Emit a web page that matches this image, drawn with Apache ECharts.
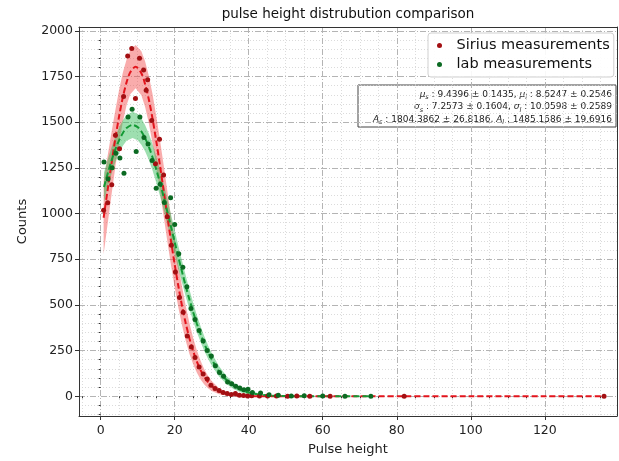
<!DOCTYPE html>
<html><head><meta charset="utf-8">
<script src="https://cdn.jsdelivr.net/npm/echarts@6/dist/echarts.min.js"></script>
<style>html,body{margin:0;padding:0;background:#fff}#c{width:619px;height:461px}</style>
</head><body><div id="c"></div>
<script>
// ---- data ----
const sirX = [0.8,1.9,3.0,4.0,5.1,6.2,7.3,8.4,9.4,10.5,11.6,12.3,12.7,13.8,14.8,15.9,17.0,18.0,19.1,20.2,21.3,22.3,23.4,24.5,25.5,26.6,27.7,28.8,29.8,30.9,32.0,33.1,34.2,35.3,36.4,37.5,38.6,39.7,40.8,42.9,45.1,47.5,50.5,53.0,56.5,62.0,82.0,136.0];
const sirY = [1018,1059,1157,1428,1354,1640,1862,1904,1630,1850,1786,1675,1732,1509,1273,1407,1211,983,827,680,540,460,330,270,212,160,122,95,60,42,32,20,15,10,15,6,4,2,3,1,2,1,0,1,0,0,0,0];
const labX = [0.9,2.0,3.1,4.1,5.2,6.3,7.4,8.5,9.6,10.6,11.7,12.8,13.9,15.0,16.1,17.2,18.9,20.0,21.1,22.2,23.3,24.4,25.5,26.6,27.7,28.8,29.9,31.0,32.1,33.2,34.3,35.4,36.5,37.6,38.7,39.8,41.0,43.2,45.5,48.0,51.5,55.0,60.0,66.0,73.0];
const labY = [1282,1189,1251,1330,1304,1220,1528,1571,1339,1528,1416,1380,1290,1139,1160,1060,1086,940,780,706,600,480,420,360,302,250,221,167,130,110,78,68,55,45,35,38,20,18,8,5,2,3,1,0,0];

const sirFitX = [0.8,2,3,4,5,6,7,8,9.44,11,12,13,14,15,16,17,18,19,20,21,22,23,24,25,26,27,28,29,30,32,34,36,38,40,43,46,50,62,82,100,120,136];
const sirFitY = [977,1145,1283,1415,1534,1637,1718,1773,1804,1768,1709,1626,1521,1399,1267,1128,988,851,722,602,493,398,316,247,190,143,106,78,56,27.5,12.7,5.5,2.2,0.8,0.2,0.05,0,0,0,0,0,0];
const sirBand = [200,185,170,155,145,135,125,120,118,120,125,130,135,138,140,140,138,133,126,117,106,95,84,72,61,51,42,34,27,16,9,4.5,2,1,0.3,0.1,0,0,0,0,0,0];

const labFitX = [0.9,2,3,4,5,6,7,8.62,10,11,12,13,14,15,16,17,18,19,20,21,22,23,24,25,26,27,28,29,30,32,34,36,38,40,43,46,50,55,62,73];
const labFitY = [1145,1226,1294,1353,1402,1441,1468,1485,1473,1449,1413,1366,1309,1243,1171,1093,1011,928,844,760,680,602,529,460,397,340,288,242,202,136,89,56,34,20,8.5,3.3,0.8,0.15,0,0];
const labBand = [80,75,72,70,70,70,70,72,72,72,72,72,72,72,72,71,70,68,66,63,60,57,54,50,47,43,40,37,34,28,22,17,13,10,6,3.5,1.5,0.5,0.1,0];

const xTicks = [0,20,40,60,80,100,120];
const xMinor = [-5,5,10,15,25,30,35,45,50,55,65,70,75,85,90,95,105,110,115,125,130,135];
const yTicks = [0,250,500,750,1000,1250,1500,1750,2000];
const yMinor = [-100,-50,50,100,150,200,300,350,400,450,550,600,650,700,800,850,900,950,1050,1100,1150,1200,1300,1350,1400,1450,1550,1600,1650,1700,1800,1850,1900,1950];

const statLines = [
  ['μ','s',' : 9.4396 ± 0.1435, ','μ','l',' : 8.6247 ± 0.2546'],
  ['σ','s',' : 7.2573 ± 0.1604, ','σ','l',' : 10.0598 ± 0.2589'],
  ['A','s',' : 1804.3862 ± 26.8186, ','A','l',' : 1485.1586 ± 19.6916']
];

// ---- chart ----
const XMIN = -5.85, XMAX = 139.5, YMIN = -108, YMAX = 2021;
const FONT = 'DejaVu Sans';
const pairs = (xs, ys) => xs.map((x, i) => [x, ys[i]]);

function bandSeries(xs, ys, hs, color) {
  return {
    type: 'custom', xAxisIndex: 0, yAxisIndex: 0, silent: true, z: 1,
    data: [[xs[0], ys[0]]],
    renderItem: function (params, api) {
      const pts = [];
      for (let i = 0; i < xs.length; i++) pts.push(api.coord([xs[i], ys[i] + hs[i]]));
      for (let i = xs.length - 1; i >= 0; i--) pts.push(api.coord([xs[i], ys[i] - hs[i]]));
      return { type: 'polygon', shape: { points: pts }, style: { fill: color } };
    }
  };
}

const majorGrid = { show: true, lineStyle: { color: '#b4b4b4', width: 1, type: [6, 2, 1, 2] } };
const minorGrid = { show: true, lineStyle: { color: '#d2d2d2', width: 0.8, type: [1, 2] } };
const axisCol = '#222';

const chart = echarts.init(document.getElementById('c'), null, { renderer: 'canvas' });

const statText = statLines.map((l, k) => ({
  type: 'text', x: 254, y: 8 + k * 12.5,
  style: {
    text: '{m|' + l[0] + '}{s|' + l[1] + '}{n|' + l[2] + '}{m|' + l[3] + '}{s|' + l[4] + '}{n|' + l[5] + '}',
    align: 'right', verticalAlign: 'middle',
    rich: {
      m: { fontFamily: FONT, fontSize: 9, fontStyle: 'italic', fill: '#222', lineHeight: 12, verticalAlign: 'bottom' },
      s: { fontFamily: FONT, fontSize: 6.5, fontStyle: 'italic', fill: '#222', lineHeight: 12, verticalAlign: 'bottom', padding: [0, 0, -2, 0] },
      n: { fontFamily: FONT, fontSize: 9, fill: '#222', lineHeight: 12, verticalAlign: 'bottom' }
    }
  }
}));

chart.setOption({
  animation: false,
  backgroundColor: '#fff',
  grid: { left: 79, right: 2, top: 27, bottom: 32, containLabel: false },
  graphic: [
    { type: 'text', x: 348, y: 14, z: 10, style: { text: 'pulse height distrubution comparison', font: '13.5px "DejaVu Sans"', fill: '#111', align: 'center', verticalAlign: 'middle' } },
    { type: 'group', x: 358, y: 85, z: 10, children: [
      { type: 'rect', shape: { x: 0, y: 0, width: 258, height: 42 }, style: { fill: '#fff', stroke: '#444', lineWidth: 1 } }
    ].concat(statText) }
  ],
  legend: {
    orient: 'vertical', left: 428, top: 33,
    padding: [5, 4, 5, 9], itemGap: 4,
    itemWidth: 24, itemHeight: 5,
    backgroundColor: 'rgba(255,255,255,0.9)', borderColor: '#d0d0d0', borderWidth: 1, borderRadius: 3,
    textStyle: { fontFamily: FONT, fontSize: 14.5, color: '#111' },
    data: ['Sirius measurements', 'lab measurements']
  },
  xAxis: [
    { type: 'value', min: XMIN, max: XMAX, position: 'bottom',
      name: 'Pulse height', nameLocation: 'middle', nameGap: 27,
      nameTextStyle: { fontFamily: FONT, fontSize: 13, color: axisCol },
      axisLine: { onZero: false, lineStyle: { color: '#333', width: 1 } },
      axisTick: { customValues: xTicks, length: 4, lineStyle: { color: '#333' } },
      axisLabel: { customValues: xTicks, fontFamily: FONT, fontSize: 12.5, color: axisCol, margin: 8 },
      splitLine: majorGrid },
    { type: 'value', min: XMIN, max: XMAX, position: 'bottom',
      axisLine: { show: false },
      axisTick: { customValues: xMinor, length: 2, lineStyle: { color: '#333' } },
      axisLabel: { show: false }, splitLine: minorGrid },
    { type: 'value', min: XMIN, max: XMAX, position: 'top',
      axisLine: { show: true, onZero: false, lineStyle: { color: '#333', width: 1 } },
      axisTick: { show: false }, axisLabel: { show: false }, splitLine: { show: false } }
  ],
  yAxis: [
    { type: 'value', min: YMIN, max: YMAX, position: 'left',
      name: 'Counts', nameLocation: 'middle', nameGap: 50, nameRotate: 90,
      nameTextStyle: { fontFamily: FONT, fontSize: 13, color: axisCol },
      axisLine: { show: true, onZero: false, lineStyle: { color: '#333', width: 1 } },
      axisTick: { show: true, customValues: yTicks, length: 4, lineStyle: { color: '#333' } },
      axisLabel: { customValues: yTicks, formatter: v => String(v), fontFamily: FONT, fontSize: 12.5, color: axisCol, margin: 6 },
      splitLine: majorGrid },
    { type: 'value', min: YMIN, max: YMAX, position: 'left',
      axisLine: { show: false },
      axisTick: { show: true, customValues: yMinor, length: 2, lineStyle: { color: '#333' } },
      axisLabel: { show: false }, splitLine: minorGrid },
    { type: 'value', min: YMIN, max: YMAX, position: 'right',
      axisLine: { show: true, onZero: false, lineStyle: { color: '#333', width: 1 } },
      axisTick: { show: false }, axisLabel: { show: false }, splitLine: { show: false } }
  ],
  series: [
    bandSeries(sirFitX, sirFitY, sirBand, 'rgba(242,70,70,0.45)'),
    bandSeries(labFitX, labFitY, labBand, 'rgba(40,185,80,0.45)'),
    { name: 'Sirius fit', type: 'line', xAxisIndex: 0, yAxisIndex: 0, data: pairs(sirFitX, sirFitY), showSymbol: false, smooth: 0.3, z: 3,
      lineStyle: { color: '#e3141c', width: 2, type: [6, 3] } },
    { name: 'lab fit', type: 'line', xAxisIndex: 0, yAxisIndex: 0, data: pairs(labFitX, labFitY), showSymbol: false, smooth: 0.3, z: 3,
      lineStyle: { color: '#139a35', width: 2, type: [6, 3] } },
    { name: 'Sirius measurements', type: 'scatter', xAxisIndex: 0, yAxisIndex: 0, data: pairs(sirX, sirY), symbolSize: 5, z: 4,
      itemStyle: { color: '#a30f12', opacity: 1 } },
    { name: 'lab measurements', type: 'scatter', xAxisIndex: 0, yAxisIndex: 0, data: pairs(labX, labY), symbolSize: 5, z: 4,
      itemStyle: { color: '#0b6a22', opacity: 1 } }
  ]
});
</script></body></html>
